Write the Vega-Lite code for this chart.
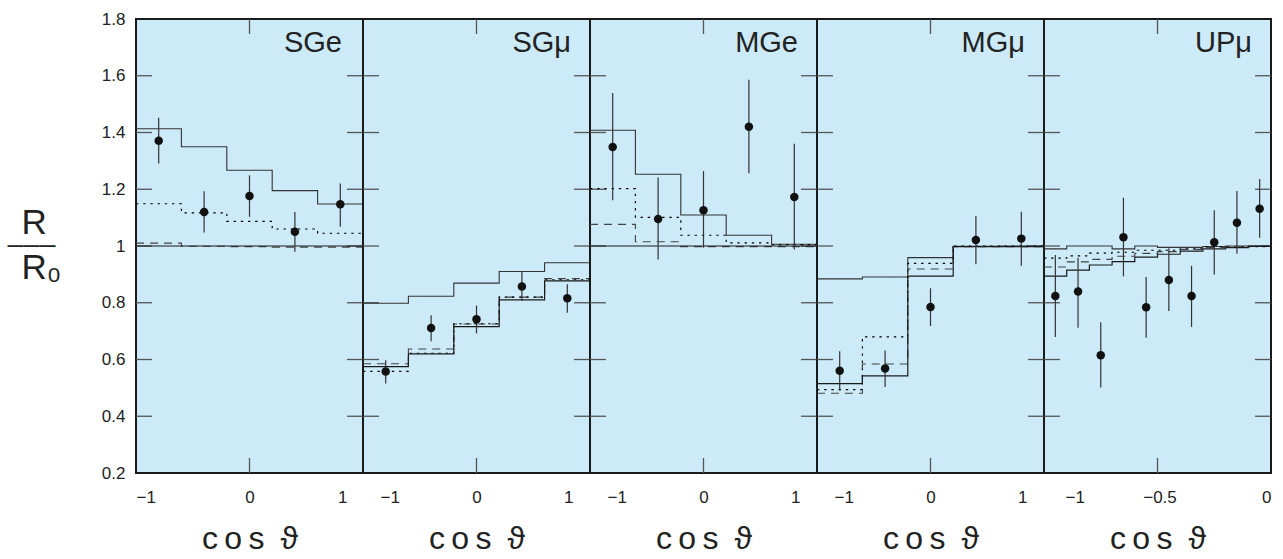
{
"$schema":"https://vega.github.io/schema/vega-lite/v6.json",
"padding":{"left":6,"top":9,"right":0,"bottom":0},
"background":"white",
"datasets":{
"yt":[{"v":0.4},{"v":0.6},{"v":0.8},{"v":1.0},{"v":1.2},{"v":1.4},{"v":1.6}],
"lines":[
{"p":"SGe","s":"thin","x":-1,"y":1.413},{"p":"SGe","s":"thin","x":-0.6,"y":1.35},{"p":"SGe","s":"thin","x":-0.2,"y":1.267},{"p":"SGe","s":"thin","x":0.2,"y":1.195},{"p":"SGe","s":"thin","x":0.6,"y":1.148},{"p":"SGe","s":"thin","x":1,"y":1.148},
{"p":"SGe","s":"dot","x":-1,"y":1.149},{"p":"SGe","s":"dot","x":-0.6,"y":1.117},{"p":"SGe","s":"dot","x":-0.2,"y":1.087},{"p":"SGe","s":"dot","x":0.2,"y":1.06},{"p":"SGe","s":"dot","x":0.6,"y":1.045},{"p":"SGe","s":"dot","x":1,"y":1.045},
{"p":"SGe","s":"dash","x":-1,"y":1.01},{"p":"SGe","s":"dash","x":-0.6,"y":0.999},{"p":"SGe","s":"dash","x":-0.2,"y":0.998},{"p":"SGe","s":"dash","x":0.2,"y":0.996},{"p":"SGe","s":"dash","x":0.6,"y":0.996},{"p":"SGe","s":"dash","x":1,"y":0.996},
{"p":"SGe","s":"thick","x":-1,"y":1.0},{"p":"SGe","s":"thick","x":-0.6,"y":1.0},{"p":"SGe","s":"thick","x":-0.2,"y":1.0},{"p":"SGe","s":"thick","x":0.2,"y":1.0},{"p":"SGe","s":"thick","x":0.6,"y":1.0},{"p":"SGe","s":"thick","x":1,"y":1.0},
{"p":"SGmu","s":"thin","x":-1,"y":0.798},{"p":"SGmu","s":"thin","x":-0.6,"y":0.823},{"p":"SGmu","s":"thin","x":-0.2,"y":0.869},{"p":"SGmu","s":"thin","x":0.2,"y":0.91},{"p":"SGmu","s":"thin","x":0.6,"y":0.941},{"p":"SGmu","s":"thin","x":1,"y":0.941},
{"p":"SGmu","s":"dash","x":-1,"y":0.585},{"p":"SGmu","s":"dash","x":-0.6,"y":0.637},{"p":"SGmu","s":"dash","x":-0.2,"y":0.725},{"p":"SGmu","s":"dash","x":0.2,"y":0.82},{"p":"SGmu","s":"dash","x":0.6,"y":0.885},{"p":"SGmu","s":"dash","x":1,"y":0.885},
{"p":"SGmu","s":"dot","x":-1,"y":0.558},{"p":"SGmu","s":"dot","x":-0.6,"y":0.622},{"p":"SGmu","s":"dot","x":-0.2,"y":0.726},{"p":"SGmu","s":"dot","x":0.2,"y":0.82},{"p":"SGmu","s":"dot","x":0.6,"y":0.881},{"p":"SGmu","s":"dot","x":1,"y":0.881},
{"p":"SGmu","s":"thick","x":-1,"y":0.575},{"p":"SGmu","s":"thick","x":-0.6,"y":0.62},{"p":"SGmu","s":"thick","x":-0.2,"y":0.716},{"p":"SGmu","s":"thick","x":0.2,"y":0.81},{"p":"SGmu","s":"thick","x":0.6,"y":0.877},{"p":"SGmu","s":"thick","x":1,"y":0.877},
{"p":"MGe","s":"thin","x":-1,"y":1.408},{"p":"MGe","s":"thin","x":-0.6,"y":1.253},{"p":"MGe","s":"thin","x":-0.2,"y":1.109},{"p":"MGe","s":"thin","x":0.2,"y":1.038},{"p":"MGe","s":"thin","x":0.6,"y":1.006},{"p":"MGe","s":"thin","x":1,"y":1.006},
{"p":"MGe","s":"dot","x":-1,"y":1.202},{"p":"MGe","s":"dot","x":-0.6,"y":1.101},{"p":"MGe","s":"dot","x":-0.2,"y":1.038},{"p":"MGe","s":"dot","x":0.2,"y":1.011},{"p":"MGe","s":"dot","x":0.6,"y":1.005},{"p":"MGe","s":"dot","x":1,"y":1.005},
{"p":"MGe","s":"dash","x":-1,"y":1.076},{"p":"MGe","s":"dash","x":-0.6,"y":1.015},{"p":"MGe","s":"dash","x":-0.2,"y":0.998},{"p":"MGe","s":"dash","x":0.2,"y":0.998},{"p":"MGe","s":"dash","x":0.6,"y":0.998},{"p":"MGe","s":"dash","x":1,"y":0.998},
{"p":"MGe","s":"thick","x":-1,"y":1.0},{"p":"MGe","s":"thick","x":-0.6,"y":1.0},{"p":"MGe","s":"thick","x":-0.2,"y":1.0},{"p":"MGe","s":"thick","x":0.2,"y":1.0},{"p":"MGe","s":"thick","x":0.6,"y":1.0},{"p":"MGe","s":"thick","x":1,"y":1.0},
{"p":"MGmu","s":"thin","x":-1,"y":0.884},{"p":"MGmu","s":"thin","x":-0.6,"y":0.891},{"p":"MGmu","s":"thin","x":-0.2,"y":0.959},{"p":"MGmu","s":"thin","x":0.2,"y":0.999},{"p":"MGmu","s":"thin","x":0.6,"y":1.0},{"p":"MGmu","s":"thin","x":1,"y":1.0},
{"p":"MGmu","s":"dot","x":-1,"y":0.494},{"p":"MGmu","s":"dot","x":-0.6,"y":0.68},{"p":"MGmu","s":"dot","x":-0.2,"y":0.939},{"p":"MGmu","s":"dot","x":0.2,"y":1.0},{"p":"MGmu","s":"dot","x":0.6,"y":1.0},{"p":"MGmu","s":"dot","x":1,"y":1.0},
{"p":"MGmu","s":"dash","x":-1,"y":0.481},{"p":"MGmu","s":"dash","x":-0.6,"y":0.584},{"p":"MGmu","s":"dash","x":-0.2,"y":0.919},{"p":"MGmu","s":"dash","x":0.2,"y":0.998},{"p":"MGmu","s":"dash","x":0.6,"y":0.998},{"p":"MGmu","s":"dash","x":1,"y":0.998},
{"p":"MGmu","s":"thick","x":-1,"y":0.515},{"p":"MGmu","s":"thick","x":-0.6,"y":0.542},{"p":"MGmu","s":"thick","x":-0.2,"y":0.894},{"p":"MGmu","s":"thick","x":0.2,"y":0.998},{"p":"MGmu","s":"thick","x":0.6,"y":0.998},{"p":"MGmu","s":"thick","x":1,"y":0.998},
{"p":"UPmu","s":"thin","x":-1,"y":0.99},{"p":"UPmu","s":"thin","x":-0.9,"y":1.0},{"p":"UPmu","s":"thin","x":-0.8,"y":1.0},{"p":"UPmu","s":"thin","x":-0.7,"y":0.99},{"p":"UPmu","s":"thin","x":-0.6,"y":1.0},{"p":"UPmu","s":"thin","x":-0.5,"y":0.995},{"p":"UPmu","s":"thin","x":-0.4,"y":0.995},{"p":"UPmu","s":"thin","x":-0.3,"y":0.998},{"p":"UPmu","s":"thin","x":-0.2,"y":1.0},{"p":"UPmu","s":"thin","x":-0.1,"y":1.0},{"p":"UPmu","s":"thin","x":0,"y":1.0},
{"p":"UPmu","s":"dot","x":-1,"y":0.957},{"p":"UPmu","s":"dot","x":-0.9,"y":0.965},{"p":"UPmu","s":"dot","x":-0.8,"y":0.975},{"p":"UPmu","s":"dot","x":-0.7,"y":0.978},{"p":"UPmu","s":"dot","x":-0.6,"y":0.985},{"p":"UPmu","s":"dot","x":-0.5,"y":0.985},{"p":"UPmu","s":"dot","x":-0.4,"y":0.99},{"p":"UPmu","s":"dot","x":-0.3,"y":0.997},{"p":"UPmu","s":"dot","x":-0.2,"y":0.997},{"p":"UPmu","s":"dot","x":-0.1,"y":0.998},{"p":"UPmu","s":"dot","x":0,"y":0.998},
{"p":"UPmu","s":"dash","x":-1,"y":0.926},{"p":"UPmu","s":"dash","x":-0.9,"y":0.944},{"p":"UPmu","s":"dash","x":-0.8,"y":0.953},{"p":"UPmu","s":"dash","x":-0.7,"y":0.964},{"p":"UPmu","s":"dash","x":-0.6,"y":0.974},{"p":"UPmu","s":"dash","x":-0.5,"y":0.98},{"p":"UPmu","s":"dash","x":-0.4,"y":0.988},{"p":"UPmu","s":"dash","x":-0.3,"y":0.995},{"p":"UPmu","s":"dash","x":-0.2,"y":0.997},{"p":"UPmu","s":"dash","x":-0.1,"y":1.0},{"p":"UPmu","s":"dash","x":0,"y":1.0},
{"p":"UPmu","s":"thick","x":-1,"y":0.894},{"p":"UPmu","s":"thick","x":-0.9,"y":0.915},{"p":"UPmu","s":"thick","x":-0.8,"y":0.933},{"p":"UPmu","s":"thick","x":-0.7,"y":0.945},{"p":"UPmu","s":"thick","x":-0.6,"y":0.961},{"p":"UPmu","s":"thick","x":-0.5,"y":0.971},{"p":"UPmu","s":"thick","x":-0.4,"y":0.982},{"p":"UPmu","s":"thick","x":-0.3,"y":0.99},{"p":"UPmu","s":"thick","x":-0.2,"y":0.994},{"p":"UPmu","s":"thick","x":-0.1,"y":0.999},{"p":"UPmu","s":"thick","x":0,"y":0.999}
],
"pts":[
{"p":"SGe","x":-0.8,"y":1.371,"lo":1.291,"hi":1.452},{"p":"SGe","x":-0.4,"y":1.12,"lo":1.048,"hi":1.193},{"p":"SGe","x":0,"y":1.176,"lo":1.103,"hi":1.249},{"p":"SGe","x":0.4,"y":1.05,"lo":0.98,"hi":1.12},{"p":"SGe","x":0.8,"y":1.147,"lo":1.068,"hi":1.22},
{"p":"SGmu","x":-0.8,"y":0.558,"lo":0.515,"hi":0.597},{"p":"SGmu","x":-0.4,"y":0.711,"lo":0.664,"hi":0.756},{"p":"SGmu","x":0,"y":0.742,"lo":0.692,"hi":0.79},{"p":"SGmu","x":0.4,"y":0.857,"lo":0.806,"hi":0.91},{"p":"SGmu","x":0.8,"y":0.816,"lo":0.765,"hi":0.865},
{"p":"MGe","x":-0.8,"y":1.349,"lo":1.161,"hi":1.539},{"p":"MGe","x":-0.4,"y":1.095,"lo":0.952,"hi":1.241},{"p":"MGe","x":0,"y":1.126,"lo":0.994,"hi":1.264},{"p":"MGe","x":0.4,"y":1.42,"lo":1.256,"hi":1.586},{"p":"MGe","x":0.8,"y":1.173,"lo":0.988,"hi":1.36},
{"p":"MGmu","x":-0.8,"y":0.56,"lo":0.491,"hi":0.629},{"p":"MGmu","x":-0.4,"y":0.568,"lo":0.503,"hi":0.632},{"p":"MGmu","x":0,"y":0.785,"lo":0.718,"hi":0.851},{"p":"MGmu","x":0.4,"y":1.021,"lo":0.936,"hi":1.106},{"p":"MGmu","x":0.8,"y":1.026,"lo":0.93,"hi":1.121},
{"p":"UPmu","x":-0.95,"y":0.824,"lo":0.679,"hi":0.968},{"p":"UPmu","x":-0.85,"y":0.84,"lo":0.712,"hi":0.959},{"p":"UPmu","x":-0.75,"y":0.615,"lo":0.501,"hi":0.731},{"p":"UPmu","x":-0.65,"y":1.031,"lo":0.893,"hi":1.17},{"p":"UPmu","x":-0.55,"y":0.784,"lo":0.677,"hi":0.891},{"p":"UPmu","x":-0.45,"y":0.88,"lo":0.771,"hi":0.992},{"p":"UPmu","x":-0.35,"y":0.824,"lo":0.715,"hi":0.93},{"p":"UPmu","x":-0.25,"y":1.013,"lo":0.9,"hi":1.126},{"p":"UPmu","x":-0.15,"y":1.082,"lo":0.973,"hi":1.194},{"p":"UPmu","x":-0.05,"y":1.131,"lo":1.029,"hi":1.236}
]
},
"hconcat":[
{"width":227,"height":454,"layer":[
 {"data":{"name":"yt"},"mark":{"type":"point","shape":"M0,0H1","size":1024,"filled":false,"strokeWidth":1.3,"color":"#555","opacity":1},"encoding":{"x":{"datum":-1,"type":"quantitative","axis":null},"y":{"field":"v","type":"quantitative","axis":null}}},
 {"data":{"name":"yt"},"mark":{"type":"point","shape":"M0,0H-1","size":1024,"filled":false,"strokeWidth":1.3,"color":"#555","opacity":1},"encoding":{"x":{"datum":1,"type":"quantitative","axis":null},"y":{"field":"v","type":"quantitative","axis":null}}},
 {"data":{"values":[{"v":1.8}]},"mark":{"type":"point","shape":"M0,0V1","size":900,"filled":false,"strokeWidth":1.3,"color":"#555","opacity":1},"encoding":{"x":{"datum":0,"type":"quantitative","axis":null},"y":{"field":"v","type":"quantitative","axis":null}}},
 {"data":{"values":[{"v":0.2}]},"mark":{"type":"point","shape":"M0,0V-1","size":900,"filled":false,"strokeWidth":1.3,"color":"#555","opacity":1},"encoding":{"x":{"datum":0,"type":"quantitative","axis":null},"y":{"field":"v","type":"quantitative","axis":null}}},
 {"data":{"name":"lines"},"transform":[{"filter":"datum.p=='SGe'"}],"mark":{"type":"line","interpolate":"step-after","strokeCap":"butt"},
  "encoding":{"x":{"field":"x","type":"quantitative","scale":{"domain":[-1,1],"nice":false,"zero":false},"axis":{"orient":"bottom","values":[-1,0,1],"labelPadding":16,"format":"~g","title":"c\u2009o\u2009s\u2002\u03d1","labelOffset":{"expr":"datum.value == 1 ? -16 : 0"}}},
   "y":{"field":"y","type":"quantitative","scale":{"domain":[0.2,1.8],"nice":false,"zero":false},"axis":{"orient":"left","values":[0.2,0.4,0.6,0.8,1,1.2,1.4,1.6,1.8],"labelPadding":11,"format":"~g","title":["R","R\u2080"],"titleAngle":0,"titleX":-115,"titleY":214,"titleAlign":"left","titleBaseline":"alphabetic","titleFontSize":35,"titleLineHeight":45.6}},
   "strokeDash":{"field":"s","type":"nominal","scale":{"domain":["thin","dash","dot","thick"],"range":[[1,0],[8,6],[2.4,4.8],[1,0]]},"legend":null},
   "strokeWidth":{"field":"s","type":"nominal","scale":{"domain":["thin","dash","dot","thick"],"range":[1.1,1.2,3,2.4]},"legend":null},
   "color":{"field":"s","type":"nominal","scale":{"domain":["thin","dash","dot","thick"],"range":["#333333","#444444","#000000","#1a1a1a"]},"legend":null}}},
 {"data":{"name":"pts"},"transform":[{"filter":"datum.p=='SGe'"}],"mark":{"type":"rule","color":"#333","strokeWidth":1.2},
  "encoding":{"x":{"field":"x","type":"quantitative","axis":null},"y":{"field":"lo","type":"quantitative","axis":null},"y2":{"field":"hi"}}},
 {"data":{"name":"pts"},"transform":[{"filter":"datum.p=='SGe'"}],"mark":{"type":"point","filled":true,"size":72,"color":"#111","opacity":1},
  "encoding":{"x":{"field":"x","type":"quantitative","axis":null},"y":{"field":"y","type":"quantitative","axis":null}}},
 {"data":{"values":[{"t":"SGe"}]},"mark":{"type":"text","align":"right","baseline":"alphabetic","dx":-21,"dy":33,"fontSize":29,"font":"Liberation Sans","color":"#222"},
  "encoding":{"x":{"datum":1,"type":"quantitative","axis":{"orient":"top","ticks":false,"labels":false,"domain":false,"title":"\u2014\u2014\u2014","titleX":-105,"titleY":231,"titleAngle":0,"titleAlign":"center","titleBaseline":"alphabetic","titleFontSize":16,"titleFontWeight":"bold","titlePadding":0}},"y":{"datum":1.8,"type":"quantitative","axis":null},"text":{"field":"t"}}}
 ],"resolve":{"axis":{"x":"independent","y":"independent"}}},
{"width":227,"height":454,"layer":[
 {"data":{"name":"yt"},"mark":{"type":"point","shape":"M0,0H1","size":1024,"filled":false,"strokeWidth":1.3,"color":"#555","opacity":1},"encoding":{"x":{"datum":-1,"type":"quantitative","axis":null},"y":{"field":"v","type":"quantitative","axis":null}}},
 {"data":{"name":"yt"},"mark":{"type":"point","shape":"M0,0H-1","size":1024,"filled":false,"strokeWidth":1.3,"color":"#555","opacity":1},"encoding":{"x":{"datum":1,"type":"quantitative","axis":null},"y":{"field":"v","type":"quantitative","axis":null}}},
 {"data":{"values":[{"v":1.8}]},"mark":{"type":"point","shape":"M0,0V1","size":900,"filled":false,"strokeWidth":1.3,"color":"#555","opacity":1},"encoding":{"x":{"datum":0,"type":"quantitative","axis":null},"y":{"field":"v","type":"quantitative","axis":null}}},
 {"data":{"values":[{"v":0.2}]},"mark":{"type":"point","shape":"M0,0V-1","size":900,"filled":false,"strokeWidth":1.3,"color":"#555","opacity":1},"encoding":{"x":{"datum":0,"type":"quantitative","axis":null},"y":{"field":"v","type":"quantitative","axis":null}}},
 {"data":{"name":"lines"},"transform":[{"filter":"datum.p=='SGmu'"}],"mark":{"type":"line","interpolate":"step-after","strokeCap":"butt"},
  "encoding":{"x":{"field":"x","type":"quantitative","scale":{"domain":[-1,1],"nice":false,"zero":false},"axis":{"orient":"bottom","values":[-1,0,1],"labelPadding":16,"format":"~g","title":"c\u2009o\u2009s\u2002\u03d1","labelOffset":{"expr":"datum.value == 1 ? -17 : datum.value == -1 ? 17 : 0"}}},
   "y":{"field":"y","type":"quantitative","scale":{"domain":[0.2,1.8],"nice":false,"zero":false},"axis":null},
   "strokeDash":{"field":"s","type":"nominal","scale":{"domain":["thin","dash","dot","thick"],"range":[[1,0],[8,6],[2.4,4.8],[1,0]]},"legend":null},
   "strokeWidth":{"field":"s","type":"nominal","scale":{"domain":["thin","dash","dot","thick"],"range":[1.1,1.2,3,2.4]},"legend":null},
   "color":{"field":"s","type":"nominal","scale":{"domain":["thin","dash","dot","thick"],"range":["#333333","#444444","#000000","#1a1a1a"]},"legend":null}}},
 {"data":{"name":"pts"},"transform":[{"filter":"datum.p=='SGmu'"}],"mark":{"type":"rule","color":"#333","strokeWidth":1.2},
  "encoding":{"x":{"field":"x","type":"quantitative","axis":null},"y":{"field":"lo","type":"quantitative","axis":null},"y2":{"field":"hi"}}},
 {"data":{"name":"pts"},"transform":[{"filter":"datum.p=='SGmu'"}],"mark":{"type":"point","filled":true,"size":72,"color":"#111","opacity":1},
  "encoding":{"x":{"field":"x","type":"quantitative","axis":null},"y":{"field":"y","type":"quantitative","axis":null}}},
 {"data":{"values":[{"t":"SG\u03bc"}]},"mark":{"type":"text","align":"right","baseline":"alphabetic","dx":-19,"dy":33,"fontSize":29,"font":"Liberation Sans","color":"#222"},
  "encoding":{"x":{"datum":1,"type":"quantitative","axis":null},"y":{"datum":1.8,"type":"quantitative","axis":null},"text":{"field":"t"}}}
 ],"resolve":{"axis":{"x":"independent","y":"independent"}}},
{"width":227,"height":454,"layer":[
 {"data":{"name":"yt"},"mark":{"type":"point","shape":"M0,0H1","size":1024,"filled":false,"strokeWidth":1.3,"color":"#555","opacity":1},"encoding":{"x":{"datum":-1,"type":"quantitative","axis":null},"y":{"field":"v","type":"quantitative","axis":null}}},
 {"data":{"name":"yt"},"mark":{"type":"point","shape":"M0,0H-1","size":1024,"filled":false,"strokeWidth":1.3,"color":"#555","opacity":1},"encoding":{"x":{"datum":1,"type":"quantitative","axis":null},"y":{"field":"v","type":"quantitative","axis":null}}},
 {"data":{"values":[{"v":1.8}]},"mark":{"type":"point","shape":"M0,0V1","size":900,"filled":false,"strokeWidth":1.3,"color":"#555","opacity":1},"encoding":{"x":{"datum":0,"type":"quantitative","axis":null},"y":{"field":"v","type":"quantitative","axis":null}}},
 {"data":{"values":[{"v":0.2}]},"mark":{"type":"point","shape":"M0,0V-1","size":900,"filled":false,"strokeWidth":1.3,"color":"#555","opacity":1},"encoding":{"x":{"datum":0,"type":"quantitative","axis":null},"y":{"field":"v","type":"quantitative","axis":null}}},
 {"data":{"name":"lines"},"transform":[{"filter":"datum.p=='MGe'"}],"mark":{"type":"line","interpolate":"step-after","strokeCap":"butt"},
  "encoding":{"x":{"field":"x","type":"quantitative","scale":{"domain":[-1,1],"nice":false,"zero":false},"axis":{"orient":"bottom","values":[-1,0,1],"labelPadding":16,"format":"~g","title":"c\u2009o\u2009s\u2002\u03d1","labelOffset":{"expr":"datum.value == 1 ? -17 : datum.value == -1 ? 17 : 0"}}},
   "y":{"field":"y","type":"quantitative","scale":{"domain":[0.2,1.8],"nice":false,"zero":false},"axis":null},
   "strokeDash":{"field":"s","type":"nominal","scale":{"domain":["thin","dash","dot","thick"],"range":[[1,0],[8,6],[2.4,4.8],[1,0]]},"legend":null},
   "strokeWidth":{"field":"s","type":"nominal","scale":{"domain":["thin","dash","dot","thick"],"range":[1.1,1.2,3,2.4]},"legend":null},
   "color":{"field":"s","type":"nominal","scale":{"domain":["thin","dash","dot","thick"],"range":["#333333","#444444","#000000","#1a1a1a"]},"legend":null}}},
 {"data":{"name":"pts"},"transform":[{"filter":"datum.p=='MGe'"}],"mark":{"type":"rule","color":"#333","strokeWidth":1.2},
  "encoding":{"x":{"field":"x","type":"quantitative","axis":null},"y":{"field":"lo","type":"quantitative","axis":null},"y2":{"field":"hi"}}},
 {"data":{"name":"pts"},"transform":[{"filter":"datum.p=='MGe'"}],"mark":{"type":"point","filled":true,"size":72,"color":"#111","opacity":1},
  "encoding":{"x":{"field":"x","type":"quantitative","axis":null},"y":{"field":"y","type":"quantitative","axis":null}}},
 {"data":{"values":[{"t":"MGe"}]},"mark":{"type":"text","align":"right","baseline":"alphabetic","dx":-19,"dy":33,"fontSize":29,"font":"Liberation Sans","color":"#222"},
  "encoding":{"x":{"datum":1,"type":"quantitative","axis":null},"y":{"datum":1.8,"type":"quantitative","axis":null},"text":{"field":"t"}}}
 ],"resolve":{"axis":{"x":"independent","y":"independent"}}},
{"width":227,"height":454,"layer":[
 {"data":{"name":"yt"},"mark":{"type":"point","shape":"M0,0H1","size":1024,"filled":false,"strokeWidth":1.3,"color":"#555","opacity":1},"encoding":{"x":{"datum":-1,"type":"quantitative","axis":null},"y":{"field":"v","type":"quantitative","axis":null}}},
 {"data":{"name":"yt"},"mark":{"type":"point","shape":"M0,0H-1","size":1024,"filled":false,"strokeWidth":1.3,"color":"#555","opacity":1},"encoding":{"x":{"datum":1,"type":"quantitative","axis":null},"y":{"field":"v","type":"quantitative","axis":null}}},
 {"data":{"values":[{"v":1.8}]},"mark":{"type":"point","shape":"M0,0V1","size":900,"filled":false,"strokeWidth":1.3,"color":"#555","opacity":1},"encoding":{"x":{"datum":0,"type":"quantitative","axis":null},"y":{"field":"v","type":"quantitative","axis":null}}},
 {"data":{"values":[{"v":0.2}]},"mark":{"type":"point","shape":"M0,0V-1","size":900,"filled":false,"strokeWidth":1.3,"color":"#555","opacity":1},"encoding":{"x":{"datum":0,"type":"quantitative","axis":null},"y":{"field":"v","type":"quantitative","axis":null}}},
 {"data":{"name":"lines"},"transform":[{"filter":"datum.p=='MGmu'"}],"mark":{"type":"line","interpolate":"step-after","strokeCap":"butt"},
  "encoding":{"x":{"field":"x","type":"quantitative","scale":{"domain":[-1,1],"nice":false,"zero":false},"axis":{"orient":"bottom","values":[-1,0,1],"labelPadding":16,"format":"~g","title":"c\u2009o\u2009s\u2002\u03d1","labelOffset":{"expr":"datum.value == 1 ? -17 : datum.value == -1 ? 17 : 0"}}},
   "y":{"field":"y","type":"quantitative","scale":{"domain":[0.2,1.8],"nice":false,"zero":false},"axis":null},
   "strokeDash":{"field":"s","type":"nominal","scale":{"domain":["thin","dash","dot","thick"],"range":[[1,0],[8,6],[2.4,4.8],[1,0]]},"legend":null},
   "strokeWidth":{"field":"s","type":"nominal","scale":{"domain":["thin","dash","dot","thick"],"range":[1.1,1.2,3,2.4]},"legend":null},
   "color":{"field":"s","type":"nominal","scale":{"domain":["thin","dash","dot","thick"],"range":["#333333","#444444","#000000","#1a1a1a"]},"legend":null}}},
 {"data":{"name":"pts"},"transform":[{"filter":"datum.p=='MGmu'"}],"mark":{"type":"rule","color":"#333","strokeWidth":1.2},
  "encoding":{"x":{"field":"x","type":"quantitative","axis":null},"y":{"field":"lo","type":"quantitative","axis":null},"y2":{"field":"hi"}}},
 {"data":{"name":"pts"},"transform":[{"filter":"datum.p=='MGmu'"}],"mark":{"type":"point","filled":true,"size":72,"color":"#111","opacity":1},
  "encoding":{"x":{"field":"x","type":"quantitative","axis":null},"y":{"field":"y","type":"quantitative","axis":null}}},
 {"data":{"values":[{"t":"MG\u03bc"}]},"mark":{"type":"text","align":"right","baseline":"alphabetic","dx":-19,"dy":33,"fontSize":29,"font":"Liberation Sans","color":"#222"},
  "encoding":{"x":{"datum":1,"type":"quantitative","axis":null},"y":{"datum":1.8,"type":"quantitative","axis":null},"text":{"field":"t"}}}
 ],"resolve":{"axis":{"x":"independent","y":"independent"}}},
{"width":227,"height":454,"layer":[
 {"data":{"name":"yt"},"mark":{"type":"point","shape":"M0,0H1","size":1024,"filled":false,"strokeWidth":1.3,"color":"#555","opacity":1},"encoding":{"x":{"datum":-1,"type":"quantitative","axis":null},"y":{"field":"v","type":"quantitative","axis":null}}},
 {"data":{"name":"yt"},"mark":{"type":"point","shape":"M0,0H-1","size":1024,"filled":false,"strokeWidth":1.3,"color":"#555","opacity":1},"encoding":{"x":{"datum":0,"type":"quantitative","axis":null},"y":{"field":"v","type":"quantitative","axis":null}}},
 {"data":{"values":[{"v":1.8}]},"mark":{"type":"point","shape":"M0,0V1","size":900,"filled":false,"strokeWidth":1.3,"color":"#555","opacity":1},"encoding":{"x":{"datum":-0.5,"type":"quantitative","axis":null},"y":{"field":"v","type":"quantitative","axis":null}}},
 {"data":{"values":[{"v":0.2}]},"mark":{"type":"point","shape":"M0,0V-1","size":900,"filled":false,"strokeWidth":1.3,"color":"#555","opacity":1},"encoding":{"x":{"datum":-0.5,"type":"quantitative","axis":null},"y":{"field":"v","type":"quantitative","axis":null}}},
 {"data":{"name":"lines"},"transform":[{"filter":"datum.p=='UPmu'"}],"mark":{"type":"line","interpolate":"step-after","strokeCap":"butt"},
  "encoding":{"x":{"field":"x","type":"quantitative","scale":{"domain":[-1,0],"nice":false,"zero":false},"axis":{"orient":"bottom","values":[-1,-0.5,0],"labelPadding":16,"format":"~g","title":"c\u2009o\u2009s\u2002\u03d1","labelOffset":{"expr":"datum.value == -1 ? 21 : datum.value == -0.5 ? 2 : 0"}}},
   "y":{"field":"y","type":"quantitative","scale":{"domain":[0.2,1.8],"nice":false,"zero":false},"axis":null},
   "strokeDash":{"field":"s","type":"nominal","scale":{"domain":["thin","dash","dot","thick"],"range":[[1,0],[8,6],[2.4,4.8],[1,0]]},"legend":null},
   "strokeWidth":{"field":"s","type":"nominal","scale":{"domain":["thin","dash","dot","thick"],"range":[1.1,1.2,3,2.4]},"legend":null},
   "color":{"field":"s","type":"nominal","scale":{"domain":["thin","dash","dot","thick"],"range":["#333333","#444444","#000000","#1a1a1a"]},"legend":null}}},
 {"data":{"name":"pts"},"transform":[{"filter":"datum.p=='UPmu'"}],"mark":{"type":"rule","color":"#333","strokeWidth":1.2},
  "encoding":{"x":{"field":"x","type":"quantitative","axis":null},"y":{"field":"lo","type":"quantitative","axis":null},"y2":{"field":"hi"}}},
 {"data":{"name":"pts"},"transform":[{"filter":"datum.p=='UPmu'"}],"mark":{"type":"point","filled":true,"size":72,"color":"#111","opacity":1},
  "encoding":{"x":{"field":"x","type":"quantitative","axis":null},"y":{"field":"y","type":"quantitative","axis":null}}},
 {"data":{"values":[{"t":"UP\u03bc"}]},"mark":{"type":"text","align":"right","baseline":"alphabetic","dx":-19,"dy":33,"fontSize":29,"font":"Liberation Sans","color":"#222"},
  "encoding":{"x":{"datum":0,"type":"quantitative","axis":null},"y":{"datum":1.8,"type":"quantitative","axis":null},"text":{"field":"t"}}}
 ],"resolve":{"axis":{"x":"independent","y":"independent"}}}
],
"spacing":0,
"bounds":"flush",
"config":{
 "view":{"fill":"#cceaf8","stroke":"#1a1a1a","strokeWidth":2},
 "axis":{"ticks":false,"labelFont":"Liberation Sans","labelFontSize":17,"labelColor":"#222","domain":false,"grid":false,"titleFont":"Liberation Sans","titleFontWeight":"normal","titleColor":"#222","titleFontSize":32,"titlePadding":18}
}
}
